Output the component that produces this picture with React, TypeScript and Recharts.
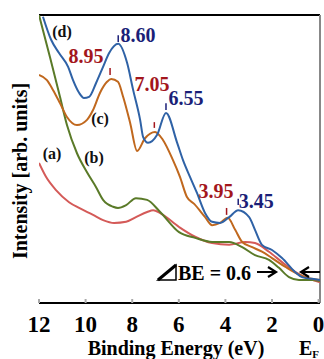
import React from 'react';
import { LineChart, Line, XAxis, YAxis, ReferenceLine, ReferenceDot } from 'recharts';

// Binding energy (eV) and intensity (arb. units) for each spectrum
const energyA = [12.0, 11.7, 11.27, 10.71, 10.28, 9.68, 9.25, 8.78, 8.26, 7.84, 7.36, 7.1, 6.8, 5.99, 5.3, 4.57, 3.84, 3.15, 2.73, 2.13, 1.57, 1.01, 0.58, -0.06];
const intensityA = [2.43, 2.19, 1.96, 1.75, 1.65, 1.53, 1.44, 1.39, 1.41, 1.49, 1.58, 1.61, 1.56, 1.32, 1.15, 1.04, 1.01, 1.06, 1.04, 0.89, 0.71, 0.54, 0.45, 0.36];

const energyB = [12.0, 11.53, 11.1, 10.8, 10.37, 9.94, 9.55, 9.25, 8.82, 8.61, 8.26, 7.84, 7.36, 6.8, 5.99, 5.3, 4.57, 3.84, 3.28, 2.73, 2.13, 1.7, 1.27, 0.84, 0.28, -0.06];
const intensityB = [5.0, 4.27, 3.58, 3.09, 2.6, 2.27, 2.01, 1.79, 1.67, 1.65, 1.7, 1.82, 1.79, 1.58, 1.23, 1.13, 1.06, 1.06, 0.97, 0.83, 0.75, 0.61, 0.45, 0.4, 0.4, 0.38];

const energyC = [12.0, 11.66, 11.4, 11.1, 10.8, 10.37, 9.94, 9.68, 9.38, 9.08, 8.9, 8.61, 8.39, 8.09, 7.79, 7.45, 7.02, 6.68, 6.25, 5.95, 5.65, 5.34, 4.87, 4.57, 4.23, 3.9, 3.58, 3.28, 2.85, 2.43, 2.0, 1.44, 0.84, 0.41, -0.06];
const intensityC = [3.96, 3.87, 3.7, 3.47, 3.23, 3.09, 3.18, 3.35, 3.65, 3.84, 3.89, 3.84, 3.58, 3.13, 2.64, 2.86, 2.97, 2.83, 2.48, 2.19, 1.84, 1.72, 1.49, 1.35, 1.39, 1.48, 1.27, 1.06, 0.97, 0.89, 0.78, 0.63, 0.49, 0.43, 0.4];

const energyD = [11.83, 11.48, 11.14, 10.75, 10.54, 10.28, 10.07, 9.85, 9.55, 9.25, 8.99, 8.6, 8.22, 7.96, 7.66, 7.53, 7.32, 6.93, 6.55, 6.07, 5.82, 5.52, 5.22, 4.87, 4.57, 4.23, 3.84, 3.45, 2.98, 2.73, 2.43, 2.0, 1.57, 1.01, 0.71, 0.28, -0.06];
const intensityD = [4.97, 4.57, 4.34, 4.1, 3.87, 3.65, 3.56, 3.58, 3.82, 4.1, 4.34, 4.5, 4.17, 3.7, 3.18, 2.88, 2.78, 2.92, 3.3, 2.78, 2.48, 2.19, 1.91, 1.56, 1.41, 1.39, 1.49, 1.61, 1.49, 1.27, 1.01, 0.92, 0.78, 0.54, 0.45, 0.42, 0.4];

const xTicks = [12, 10, 8, 6, 4, 2, 0];
const yTicks = [1, 2, 3, 4];

// Peak annotations: peak energy, tick mark bottom/top, label anchor (x, y)
const peakLabels = ['8.95', '8.60', '7.05', '6.55', '3.95', '3.45'];
const peakEnergy = [8.95, 8.6, 7.05, 6.55, 3.95, 3.45];
const peakTickLow = [3.96, 4.53, 3.04, 3.35, 1.53, 1.7];
const peakTickHigh = [4.08, 4.65, 3.14, 3.47, 1.65, 1.81];
const peakLabelX = [9.98, 7.75, 7.15, 5.69, 4.4, 2.68];
const peakLabelY = [4.29, 4.65, 3.8, 3.56, 1.94, 1.77];
const peakIsBlue = [false, true, false, true, false, true];

// Curve name labels
const curveNames = ['(a)', '(b)', '(c)', '(d)'];
const curveNameX = [11.44, 9.64, 9.38, 11.01];
const curveNameY = [2.59, 2.52, 3.21, 4.72];

const toData = (xs: number[], ys: number[]) => xs.map((x, i) => ({ x, y: ys[i] }));
const dataA = toData(energyA, intensityA);
const dataB = toData(energyB, intensityB);
const dataC = toData(energyC, intensityC);
const dataD = toData(energyD, intensityD);

const FONT = 'Liberation Serif, Times New Roman, DejaVu Serif, serif';
const NAVY = '#1b1f78';
const DARKRED = '#a3161c';
const txt = (size: number, color = '#000') => ({ fontFamily: FONT, fontWeight: 700, fontSize: size, fill: color });

const XTick = (props: any) => {
  const { x, y, payload } = props;
  return (
    <text x={x} y={y} textAnchor="middle" style={txt(23)}>
      {payload.value}
    </text>
  );
};

const EmptyTick = () => <g />;

export default function App() {
  return (
    <div style={{ position: 'relative', width: 324, height: 359, fontFamily: FONT }}>
      <style>{'body{margin:0}'}</style>
      <LineChart width={324} height={359} data={dataD} margin={{ top: 15, right: 4, bottom: 0, left: 39 }}>
        <XAxis
          type="number"
          dataKey="x"
          domain={[-0.06, 12]}
          reversed
          ticks={xTicks}
          allowDataOverflow
          height={56}
          tickSize={-4}
          tickMargin={33}
          axisLine={{ stroke: '#000', strokeWidth: 2 }}
          tickLine={{ stroke: '#aaa', strokeWidth: 2 }}
          tick={<XTick />}
          interval={0}
        />
        <YAxis
          type="number"
          domain={[0, 5]}
          ticks={yTicks}
          allowDataOverflow
          width={0}
          tickSize={-7}
          axisLine={{ stroke: '#000', strokeWidth: 2 }}
          tickLine={{ stroke: '#888', strokeWidth: 2 }}
          tick={<EmptyTick />}
        />
        <ReferenceLine y={5} stroke="#000" strokeWidth={2} ifOverflow="visible" />
        <ReferenceLine x={-0.06} stroke="#888" strokeWidth={2} ifOverflow="visible" />
        <Line data={dataA} dataKey="y" type="monotone" stroke="#d45a58" strokeWidth={2} dot={false} isAnimationActive={false} />
        <Line data={dataB} dataKey="y" type="monotone" stroke="#5a7a28" strokeWidth={2} dot={false} isAnimationActive={false} />
        <Line data={dataC} dataKey="y" type="monotone" stroke="#c0681e" strokeWidth={2} dot={false} isAnimationActive={false} />
        <Line data={dataD} dataKey="y" type="monotone" stroke="#2f62a6" strokeWidth={2} dot={false} isAnimationActive={false} />
        {peakEnergy.map((e, i) => (
          <ReferenceLine
            key={'pt' + i}
            segment={[{ x: e, y: peakTickLow[i] }, { x: e, y: peakTickHigh[i] }]}
            stroke={peakIsBlue[i] ? NAVY : DARKRED}
            strokeWidth={1.5}
            ifOverflow="visible"
          />
        ))}
        {peakLabels.map((t, i) => (
          <ReferenceDot
            key={'pl' + i}
            x={peakLabelX[i]}
            y={peakLabelY[i]}
            r={0}
            ifOverflow="visible"
            shape={(p: any) => (
              <text x={p.cx} y={p.cy} textAnchor="middle" dominantBaseline="central" style={txt(20, peakIsBlue[i] ? NAVY : DARKRED)}>
                {t}
              </text>
            )}
          />
        ))}
        {curveNames.map((t, i) => (
          <ReferenceDot
            key={'cn' + i}
            x={curveNameX[i]}
            y={curveNameY[i]}
            r={0}
            ifOverflow="visible"
            shape={(p: any) => (
              <text x={p.cx} y={p.cy} textAnchor="middle" dominantBaseline="central" style={txt(16, '#111')}>
                {t}
              </text>
            )}
          />
        ))}
      </LineChart>
      <svg width={324} height={359} style={{ position: 'absolute', left: 0, top: 0, pointerEvents: 'none' }}>
        <text transform="translate(20,171) rotate(-90)" textAnchor="middle" dominantBaseline="central" style={txt(20)}>
          Intensity [arb. units]
        </text>
        <text x={176} y={355} textAnchor="middle" style={txt(20)}>
          Binding Energy (eV)
        </text>
        <text x={299} y={355} style={txt(20)}>
          E<tspan style={{ fontSize: 11 }} dy={3}>F</tspan>
        </text>
        {/* right-triangle delta symbol */}
        <path d="M158,280 L176,280 L176,265 Z" fill="none" stroke="#000" strokeWidth={1.5} strokeLinejoin="miter" />
        <path d="M158,280 L176,265" stroke="#000" strokeWidth={3} />
        <text x={178} y={280} style={txt(20)}>
          BE = 0.6
        </text>
        {/* arrows */}
        <path d="M257,272 L275,272" stroke="#000" strokeWidth={2} />
        <path d="M268,267 L276,272 L268,277" fill="none" stroke="#000" strokeWidth={2.2} />
        <path d="M302,272 L320,272" stroke="#000" strokeWidth={2} />
        <path d="M309,267 L301,272 L309,277" fill="none" stroke="#000" strokeWidth={2.2} />
      </svg>
    </div>
  );
}
